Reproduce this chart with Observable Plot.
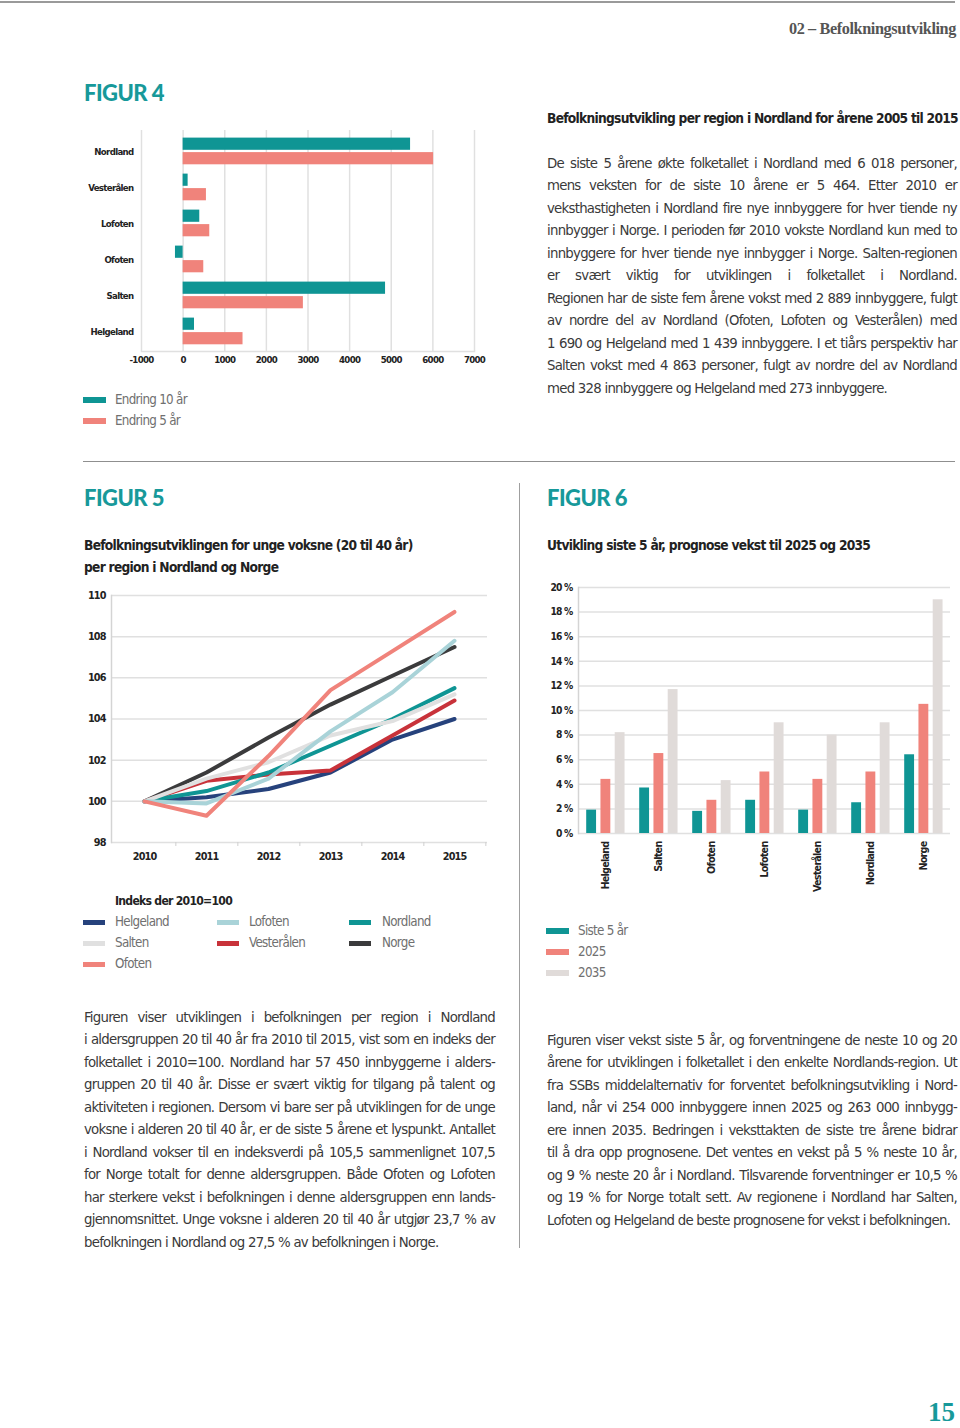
<!DOCTYPE html>
<html><head><meta charset="utf-8">
<script src="https://cdn.jsdelivr.net/npm/d3@7"></script>
<script src="https://cdn.jsdelivr.net/npm/@observablehq/plot@0.6"></script>
<style>
html,body{margin:0;padding:0;background:#fff;}
#page{position:relative;width:960px;height:1428px;overflow:hidden;background:#fff;}
.abs{position:absolute;white-space:nowrap;}
</style></head><body><div id="page"></div>
<script>
// ---------------- DATA ----------------
// Figur 4
const regions4 = ["Nordland","Vesterålen","Lofoten","Ofoten","Salten","Helgeland"];
const change10 = [5464, 120, 400, -184, 4863, 273];
const change5  = [6018, 560, 640, 496, 2889, 1439];
const xTicks4  = [-1000, 0, 1000, 2000, 3000, 4000, 5000, 6000, 7000];
const legend4  = ["Endring 10 år", "Endring 5 år"];
// Figur 5
const years5 = ["2010","2011","2012","2013","2014","2015"];
const series5 = ["Helgeland","Salten","Ofoten","Lofoten","Vesterålen","Nordland","Norge"];
const helgeland5  = [100, 100.2, 100.6, 101.4, 103.0, 104.0];
const salten5     = [100, 101.1, 101.9, 103.2, 103.9, 105.2];
const ofoten5     = [100, 99.3, 102.2, 105.4, 107.3, 109.2];
const lofoten5    = [100, 99.9, 101.1, 103.4, 105.3, 107.8];
const vesteralen5 = [100, 101.0, 101.3, 101.5, 103.2, 104.9];
const nordland5   = [100, 100.5, 101.4, 102.7, 104.0, 105.5];
const norge5      = [100, 101.4, 103.1, 104.7, 106.1, 107.5];
const yTicks5 = [98, 100, 102, 104, 106, 108, 110];
// Figur 6
const regions6 = ["Helgeland","Salten","Ofoten","Lofoten","Vesterålen","Nordland","Norge"];
const siste5  = [1.9, 3.7, 1.8, 2.7, 1.9, 2.5, 6.4];
const prog2025 = [4.4, 6.5, 2.7, 5.0, 4.4, 5.0, 10.5];
const prog2035 = [8.2, 11.7, 4.3, 9.0, 8.0, 9.0, 19.0];
const yTicks6 = [0, 2, 4, 6, 8, 10, 12, 14, 16, 18, 20];
const series6 = ["Siste 5 år", "2025", "2035"];

// ---------------- STYLE ----------------
const teal = "#0f9594", salmon = "#f0837b", lightGray = "#e0dbd9", headTeal = "#17999a";
const colors5 = {Helgeland:"#26427c", Salten:"#e0e0e0", Ofoten:"#f0837b", Lofoten:"#a9d3d8", "Vesterålen":"#c8323a", Nordland:"#0f9594", Norge:"#3b3b3c"};
const gridC = "#e0e0e0";

const page = document.getElementById("page");
const ctx = document.createElement("canvas").getContext("2d");
function fontAvailable(name){
  const s = "mmmmmmmmmmlliWWWabc 0123";
  ctx.font = "40px monospace"; const a = ctx.measureText(s).width;
  ctx.font = `40px "${name}", monospace`; const b = ctx.measureText(s).width;
  ctx.font = "40px serif"; const c = ctx.measureText(s).width;
  ctx.font = `40px "${name}", serif`; const d = ctx.measureText(s).width;
  return a !== b || c !== d;
}
const narrowName = ["Liberation Sans Narrow","DejaVu Sans Condensed","Roboto Condensed","Arial Narrow"].find(fontAvailable) || "Roboto";
const NARROW = `"${narrowName}", "Roboto", sans-serif`;
const SERIF = `"Liberation Serif", "DejaVu Serif", serif`;
const HEAD = `"Lato", "Open Sans", sans-serif`;

function measure(text, weight, size, family){ ctx.font = `${weight} ${size}px ${family}`; return ctx.measureText(text).width; }
function fit(text, target, weight="normal", family=NARROW){ return 20 * target / measure(text, weight, 20, family); }
// letter spacing (px) needed so that text at given size reaches target width
function lsFor(text, target, weight, size, family=NARROW){ return (target - measure(text, weight, size, family)) / text.length; }

function addText(txt, {x, y, size, weight="normal", family=NARROW, color="#333", anchor="start", lh=20, ws=0, ls=0}){
  const d = document.createElement("div");
  d.className = "abs";
  d.textContent = txt;
  d.style.top = (y - lh/2) + "px";
  if (anchor === "end") d.style.right = (960 - x) + "px"; else d.style.left = x + "px";
  d.style.font = `${weight} ${size}px/${lh}px ${family}`;
  d.style.color = color;
  if (ws) d.style.wordSpacing = ws + "px";
  if (ls) d.style.letterSpacing = ls + "px";
  page.appendChild(d);
  return d;
}
function paragraph(lines, {x, y0, width, lh, size, ls=0, weight="normal", family=NARROW, color="#3a3a3a"}){
  lines.forEach((ln, i) => {
    const last = i === lines.length - 1;
    const w = measure(ln, weight, size, family) + ls * ln.length;
    const n = (ln.match(/ /g) || []).length;
    const ws = last ? 0 : (width - w) / n;
    addText(ln, {x, y: y0 + i*lh, size, weight, family, color, lh, ws, ls});
  });
}
function rect(x, y, w, h, color){
  const d = document.createElement("div");
  d.style.cssText = `position:absolute;left:${x}px;top:${y}px;width:${w}px;height:${h}px;background:${color};`;
  page.appendChild(d);
}
function place(svg, x, y){
  const d = document.createElement("div");
  d.style.cssText = `position:absolute;left:${x}px;top:${y}px;`;
  d.appendChild(svg);
  page.appendChild(d);
}
const GROW = 1.12;       // text: taller glyphs than width-fit alone, tightened with letter-spacing
const CHART_GROW = 1.15; // chart tick labels are a very condensed face in the reference

// ---------------- PAGE FURNITURE ----------------
rect(0, 1, 955, 1.5, "#9a9a9a");
rect(83, 461, 872, 1, "#8f8f8f");
rect(519, 483, 1, 765, "#9f9f9f");
const hdr = "02 – Befolkningsutvikling";
const hSize = fit(hdr, 167, "bold", SERIF) * 1.06;
addText(hdr, {x: 956, y: 29, size: hSize, weight: "bold", family: SERIF, color: "#555", anchor: "end", ls: lsFor(hdr, 167, "bold", hSize, SERIF)});
addText("15", {x: 955, y: 1412, size: 27, weight: "bold", family: SERIF, color: headTeal, anchor: "end", lh: 28});
["FIGUR 4", "FIGUR 5", "FIGUR 6"].forEach((t, i) => {
  addText(t, {x: [84, 84, 547][i], y: [93, 498, 498][i], size: 22, weight: "900", family: HEAD, color: headTeal, lh: 26, ls: lsFor(t, 80, "900", 22, HEAD)});
});

// Titles
const t4 = "Befolkningsutvikling per region i Nordland for årene 2005 til 2015";
const t5a = "Befolkningsutviklingen for unge voksne (20 til 40 år)";
const t5b = "per region i Nordland og Norge";
const t6 = "Utvikling siste 5 år, prognose vekst til 2025 og 2035";
const tSize = (fit(t4, 408, "bold") + fit(t5a, 332, "bold") + fit(t6, 322, "bold")) / 3 * GROW;
const tLs = (lsFor(t4, 408, "bold", tSize) + lsFor(t5a, 332, "bold", tSize) + lsFor(t6, 322, "bold", tSize)) / 3;
addText(t4, {x: 547, y: 118, size: tSize, weight: "bold", color: "#222", ls: tLs});
addText(t5a, {x: 84, y: 545, size: tSize, weight: "bold", color: "#222", ls: tLs});
addText(t5b, {x: 84, y: 567, size: tSize, weight: "bold", color: "#222", ls: tLs});
addText(t6, {x: 547, y: 545, size: tSize, weight: "bold", color: "#222", ls: tLs});

// Body texts
const p4 = [
"De siste 5 årene økte folketallet i Nordland med 6 018 personer,",
"mens veksten for de siste 10 årene er 5 464. Etter 2010 er",
"veksthastigheten i Nordland fire nye innbyggere for hver tiende ny",
"innbygger i Norge. I perioden før 2010 vokste Nordland kun med to",
"innbyggere for hver tiende nye innbygger i Norge. Salten-regionen",
"er svært viktig for utviklingen i folketallet i Nordland.",
"Regionen har de siste fem årene vokst med 2 889 innbyggere, fulgt",
"av nordre del av Nordland (Ofoten, Lofoten og Vesterålen) med",
"1 690 og Helgeland med 1 439 innbyggere. I et tiårs perspektiv har",
"Salten vokst med 4 863 personer, fulgt av nordre del av Nordland",
"med 328 innbyggere og Helgeland med 273 innbyggere."];
const p5 = [
"Figuren viser utviklingen i befolkningen per region i Nordland",
"i aldersgruppen 20 til 40 år fra 2010 til 2015, vist som en indeks der",
"folketallet i 2010=100. Nordland har 57 450 innbyggerne i alders-",
"gruppen 20 til 40 år. Disse er svært viktig for tilgang på talent og",
"aktiviteten i regionen. Dersom vi bare ser på utviklingen for de unge",
"voksne i alderen 20 til 40 år, er de siste 5 årene et lyspunkt. Antallet",
"i Nordland vokser til en indeksverdi på 105,5 sammenlignet 107,5",
"for Norge totalt for denne aldersgruppen. Både Ofoten og Lofoten",
"har sterkere vekst i befolkningen i denne aldersgruppen enn lands-",
"gjennomsnittet. Unge voksne i alderen 20 til 40 år utgjør 23,7 % av",
"befolkningen i Nordland og 27,5 % av befolkningen i Norge."];
const p6 = [
"Figuren viser vekst siste 5 år, og forventningene de neste 10 og 20",
"årene for utviklingen i folketallet i den enkelte Nordlands-region. Ut",
"fra SSBs middelalternativ for forventet befolkningsutvikling i Nord-",
"land, når vi 254 000 innbyggere innen 2025 og 263 000 innbygg-",
"ere innen 2035. Bedringen i veksttakten de siste tre årene bidrar",
"til å dra opp prognosene. Det ventes en vekst på 5 % neste 10 år,",
"og 9 % neste 20 år i Nordland. Tilsvarende forventninger er 10,5 %",
"og 19 % for Norge totalt sett. Av regionene i Nordland har Salten,",
"Lofoten og Helgeland de beste prognosene for vekst i befolkningen."];
const lastRefs = [[p4[p4.length-1], 340], [p5[p5.length-1], 352], [p6[p6.length-1], 406]];
const bSize = lastRefs.reduce((s, [t, w]) => s + fit(t, w), 0) / 3 * GROW;
const bLs = lastRefs.reduce((s, [t, w]) => s + lsFor(t, w, "normal", bSize), 0) / 3;
paragraph(p4, {x: 547, y0: 163, width: 410, lh: 22.5, size: bSize, ls: bLs});
paragraph(p5, {x: 84, y0: 1017, width: 411, lh: 22.5, size: bSize, ls: bLs});
paragraph(p6, {x: 547, y0: 1040, width: 410, lh: 22.5, size: bSize, ls: bLs});

// Legends
const lSize = fit("Helgeland", 54) * GROW;
const lLs = lsFor("Helgeland", 54, "normal", lSize);
const lColor = "#707070";
[teal, salmon].forEach((c, i) => { rect(83, 397 + i*21, 23, 6, c); addText(legend4[i], {x: 115, y: 400 + i*21, size: lSize, color: lColor, ls: lLs}); });
const legT = "Indeks der 2010=100";
const legTSize = fit(legT, 117, "bold") * GROW;
addText(legT, {x: 115, y: 901, size: legTSize, weight: "bold", color: "#222", ls: lsFor(legT, 117, "bold", legTSize)});
const legCols5 = [[83,115],[217,249],[349,382]];
const legLayout5 = [["Helgeland","Salten","Ofoten"],["Lofoten","Vesterålen"],["Nordland","Norge"]];
legLayout5.forEach((col, ci) => col.forEach((s, ri) => {
  rect(legCols5[ci][0], 919.5 + ri*21, 22, 5.5, colors5[s]);
  addText(s, {x: legCols5[ci][1], y: 922 + ri*21, size: lSize, color: lColor, ls: lLs});
}));
[teal, salmon, lightGray].forEach((c, i) => { rect(546, 928 + i*21, 23, 6, c); addText(series6[i], {x: 578, y: 931 + i*21, size: lSize, color: lColor, ls: lLs}); });

// chart text style helper
function chartStyle(sample, target){
  const size = fit(sample, target, "bold") * CHART_GROW;
  const ls = lsFor(sample, target, "bold", size);
  return {fontFamily: NARROW, fontSize: size + "px", fontWeight: "bold", letterSpacing: ls + "px", color: "#222", background: "transparent", overflow: "visible"};
}

// ---------------- FIGUR 4 ----------------
const d4a = regions4.map((r, i) => ({region: r, value: change10[i]}));
const d4b = regions4.map((r, i) => ({region: r, value: change5[i]}));
const f4 = Plot.plot({
  width: 420, height: 250, marginLeft: 61, marginRight: 26, marginTop: 5, marginBottom: 24,
  style: chartStyle("Vesterålen", 45.3),
  x: {domain: [-1000, 7000], label: null},
  y: {domain: regions4, padding: 0, label: null},
  marks: [
    Plot.gridX(xTicks4, {stroke: gridC, strokeOpacity: 1, strokeWidth: 1.5}),
    Plot.frame({anchor: "bottom", stroke: gridC, strokeWidth: 1.5}),
    Plot.barX(d4a, {x: "value", y: "region", fill: teal, insetTop: 4.6, insetBottom: 19.2}),
    Plot.barX(d4b, {x: "value", y: "region", fill: salmon, insetTop: 19.1, insetBottom: 4.7}),
    Plot.axisX(xTicks4, {tickSize: 0, tickPadding: 5, tickFormat: d => String(d)}),
    Plot.axisY({tickSize: 0, tickPadding: 8})
  ]
});
place(f4, 80, 125);

// ---------------- FIGUR 5 ----------------
const vals5 = {Helgeland: helgeland5, Salten: salten5, Ofoten: ofoten5, Lofoten: lofoten5, "Vesterålen": vesteralen5, Nordland: nordland5, Norge: norge5};
const drawOrder5 = ["Norge","Helgeland","Vesterålen","Nordland","Salten","Lofoten","Ofoten"];
const data5 = drawOrder5.flatMap(s => years5.map((y, i) => ({series: s, year: y, value: vals5[s][i]})));
const step5 = (420 - 31 - 13) / years5.length;
const f5 = Plot.plot({
  width: 420, height: 290, marginLeft: 31, marginRight: 13, marginTop: 10, marginBottom: 33,
  style: chartStyle("2010", 23.5),
  x: {type: "point", domain: years5, padding: 0.5, label: null},
  y: {domain: [98, 110], label: null},
  color: {domain: series5, range: series5.map(s => colors5[s])},
  marks: [
    Plot.gridY(yTicks5, {stroke: gridC, strokeOpacity: 1, strokeWidth: 1.5}),
    Plot.frame({anchor: "left", stroke: "#d4d4d4", strokeWidth: 1.5}),
    Plot.axisX({tickSize: 0, tickPadding: 10}),
    Plot.axisX({tickSize: 4, tickFormat: () => "", dx: step5 / 2, stroke: "#cfcfcf"}),
    Plot.axisY(yTicks5, {tickSize: 0, tickPadding: 6}),
    Plot.line(data5, {x: "year", y: "value", z: "series", stroke: "series", strokeWidth: 4})
  ]
});
place(f5, 80, 585);

// ---------------- FIGUR 6 ----------------
const bw6 = (420 - 38 - 10) / regions6.length;
const barW6 = 10, gap6 = 4.25, off6 = 7.2;
const mk6 = arr => regions6.map((r, i) => ({region: r, value: arr[i]}));
const st6 = chartStyle("Helgeland", 48);
const f6 = Plot.plot({
  width: 420, height: 330, marginLeft: 38, marginRight: 10, marginTop: 12, marginBottom: 72,
  style: st6,
  x: {domain: regions6, padding: 0, label: null},
  y: {domain: [0, 20], label: null},
  marks: [
    Plot.gridY(yTicks6, {stroke: gridC, strokeOpacity: 1, strokeWidth: 1.5}),
    Plot.frame({anchor: "left", stroke: "#d4d4d4", strokeWidth: 1.5}),
    ...[siste5, prog2025, prog2035].map((arr, k) => {
      const l = off6 + k * (barW6 + gap6);
      return Plot.barY(mk6(arr), {x: "region", y: "value", fill: [teal, salmon, lightGray][k], insetLeft: l, insetRight: bw6 - l - barW6});
    }),
    Plot.axisY(yTicks6, {tickSize: 0, tickPadding: 6, tickFormat: d => d + " %", fontSize: parseFloat(st6.fontSize) * 0.95}),
    Plot.axisX({tickSize: 0, tickPadding: 8, tickRotate: -90})
  ]
});
place(f6, 540, 575);
</script></body></html>
